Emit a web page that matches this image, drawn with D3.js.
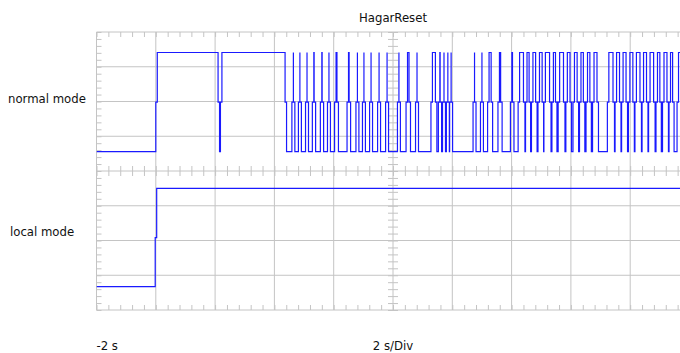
<!DOCTYPE html>
<html>
<head>
<meta charset="utf-8">
<script src="https://cdn.jsdelivr.net/npm/d3@7"></script>
<style>
  body { margin: 0; background: #fff; }
  text { font-family: "DejaVu Sans Condensed", "DejaVu Sans", sans-serif; font-size: 13px; fill: #111; }
</style>
</head>
<body>
<div id="scope"></div>
<script>
// Data (time in s, level in divisions from the bottom of the screen)
const title = "HagarReset";
const channelNames = ["normal mode", "local mode"];
const axisLabels = ["-2 s", "2 s/Div"];
const timeSpan = [-2, 18];
const divSpan = [0, 8];
// normal mode: [low, high] level, and the high pulses [rise, fall]
const normalLevels = [4.555, 7.41];
const normalHighs = [
  [0.0, 2.10], [2.18, 4.36],
  [4.59, 4.64], [4.81, 4.86], [5.05, 5.10], [5.28, 5.34], [5.55, 5.61],
  [5.79, 5.84], [6.03, 6.11], [6.45, 6.52], [6.75, 6.80], [6.97, 7.02],
  [7.21, 7.26], [7.48, 7.53], [7.75, 7.80], [8.15, 8.20], [8.44, 8.54],
  [8.76, 8.81], [9.28, 9.43], [9.53, 9.59], [9.67, 9.72], [9.80, 9.85],
  [9.91, 9.96], [10.70, 10.75], [10.95, 11.00], [11.19, 11.31], [11.54, 11.63],
  [11.96, 12.03], [12.22, 12.40], [12.47, 12.59], [12.67, 12.81], [12.89, 13.03],
  [13.09, 13.28], [13.36, 13.48], [13.57, 13.75], [13.83, 13.97], [14.07, 14.21],
  [14.29, 14.42], [14.51, 14.64], [14.73, 14.88], [15.23, 15.42], [15.49, 15.64],
  [15.71, 15.86], [15.94, 16.09], [16.16, 16.33], [16.40, 16.55], [16.62, 16.79],
  [16.87, 17.00], [17.09, 17.24], [17.31, 17.43], [17.58, 17.71]
];
// local mode
const localLevels = [0.67, 3.50];
const localHighs = [[-0.02, 18.5]];
const edgeStep = 0.05; // one sample spent at mid level on each edge

const W = 680, H = 353;
const svg = d3.select("#scope")
  .append("svg")
    .attr("width", W)
    .attr("height", H);

// Scales
const x = d3.scaleLinear().domain(timeSpan).range([96.5, 689.5]);
const y = d3.scaleLinear().domain(divSpan).range([310, 32]);

const gridColor = "#c4c4c4";
const majorX = d3.range(timeSpan[0], timeSpan[1] + 0.01, 2);
const majorY = d3.range(divSpan[0], divSpan[1] + 0.01, 1);
const minorX = d3.range(timeSpan[0], timeSpan[1] + 0.01, 0.4);
const minorY = d3.range(divSpan[0], divSpan[1] + 0.01, 0.2);

// Grid
const grid = svg.append("g").attr("stroke", gridColor).attr("stroke-width", 1);
grid.selectAll("line.v").data(majorX).join("line")
  .attr("x1", d => x(d)).attr("x2", d => x(d))
  .attr("y1", y(divSpan[1])).attr("y2", y(divSpan[0]));
grid.selectAll("line.h").data(majorY).join("line")
  .attr("x1", x(timeSpan[0])).attr("x2", x(timeSpan[1]))
  .attr("y1", d => y(d)).attr("y2", d => y(d));

// Minor ticks on borders and centre lines
function ticks(axis, transform) {
  const g = svg.append("g").attr("transform", transform).call(axis);
  g.select(".domain").remove();
  g.selectAll("text").remove();
  g.selectAll("line").attr("stroke", gridColor);
}
const cx = x((timeSpan[0] + timeSpan[1]) / 2), cy = y((divSpan[0] + divSpan[1]) / 2);
ticks(d3.axisBottom(x).tickValues(minorX).tickSize(5), `translate(0,${y(divSpan[1])})`);
ticks(d3.axisTop(x).tickValues(minorX).tickSize(5), `translate(0,${y(divSpan[0])})`);
ticks(d3.axisBottom(x).tickValues(minorX).tickSize(5), `translate(0,${cy})`);
ticks(d3.axisTop(x).tickValues(minorX).tickSize(5), `translate(0,${cy})`);
ticks(d3.axisRight(y).tickValues(minorY).tickSize(5), `translate(${x(timeSpan[0])},0)`);
ticks(d3.axisRight(y).tickValues(minorY).tickSize(5), `translate(${cx},0)`);
ticks(d3.axisLeft(y).tickValues(minorY).tickSize(5), `translate(${cx},0)`);

// Traces
function tracePoints(levels, highs) {
  const [lo, hi] = levels, mid = (lo + hi) / 2;
  const pts = [[timeSpan[0], lo]];
  highs.forEach(([r, f]) => {
    const up = r + edgeStep, fall = Math.max(f, up);
    pts.push([r, lo], [r, mid], [up, mid], [up, hi], [fall, hi], [fall, mid], [fall + edgeStep, mid], [fall + edgeStep, lo]);
  });
  pts.push([timeSpan[1] + 1, lo]);
  return pts;
}
const line = d3.line().x(d => x(d[0])).y(d => y(d[1]));
const clip = svg.append("clipPath").attr("id", "screen").append("rect")
  .attr("x", x(timeSpan[0])).attr("y", y(divSpan[1]))
  .attr("width", x(timeSpan[1]) - x(timeSpan[0])).attr("height", y(divSpan[0]) - y(divSpan[1]));
[[normalLevels, normalHighs], [localLevels, localHighs]].forEach(([lv, hs]) => {
  svg.append("path")
    .attr("clip-path", "url(#screen)")
    .attr("d", line(tracePoints(lv, hs)))
    .attr("fill", "none")
    .attr("stroke", "#1a1aff")
    .attr("stroke-width", 1.2);
});

// Texts
svg.append("text").attr("x", cx).attr("y", 22).attr("text-anchor", "middle").text(title);
svg.append("text").attr("x", 8).attr("y", y(6) + 1).text(channelNames[0]);
svg.append("text").attr("x", 10).attr("y", y(2) - 5).text(channelNames[1]);
svg.append("text").attr("x", x(timeSpan[0])).attr("y", 350).text(axisLabels[0]);
svg.append("text").attr("x", cx).attr("y", 350).attr("text-anchor", "middle").text(axisLabels[1]);
</script>
</body>
</html>
